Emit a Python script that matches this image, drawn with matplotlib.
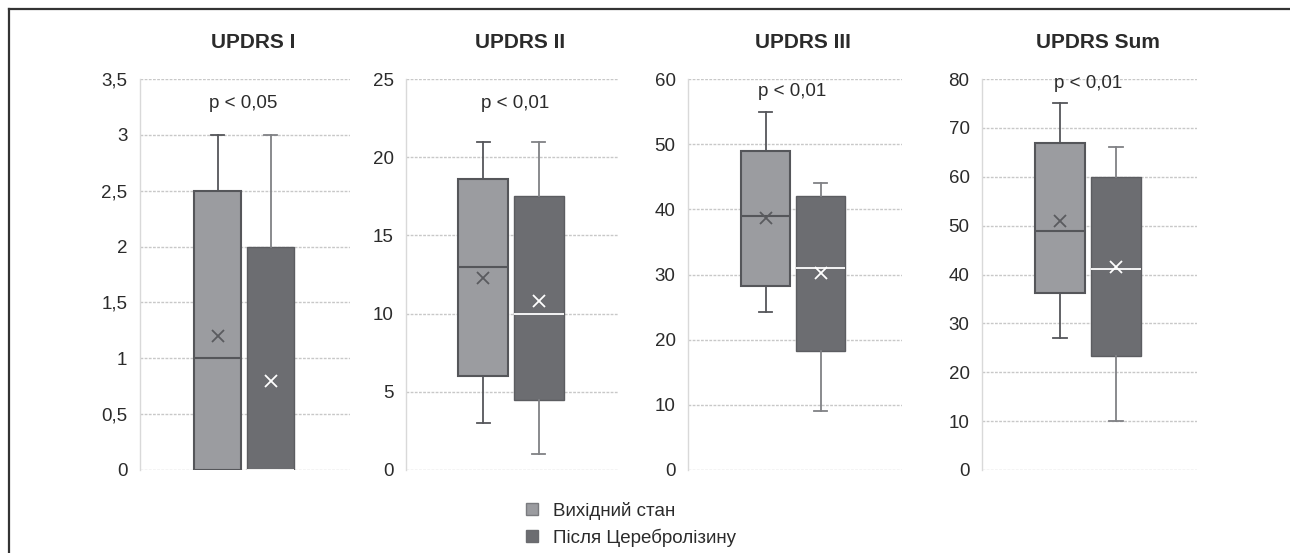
import matplotlib
matplotlib.use("Agg")
import matplotlib.pyplot as plt
from matplotlib.lines import Line2D
from matplotlib.patches import Patch

plt.rcParams['font.family'] = ['Liberation Sans', 'DejaVu Sans']

# ---- data -------------------------------------------------------------
titles = ["UPDRS I", "UPDRS II", "UPDRS III", "UPDRS Sum"]
p_labels = ["p < 0,05", "p < 0,01", "p < 0,01", "p < 0,01"]
series_names = ["Вихідний стан", "Після Церебролізину"]

y_max = [3.5, 25, 60, 80]
y_step = [0.5, 5, 10, 10]
y_tick_labels = [
    ["0", "0,5", "1", "1,5", "2", "2,5", "3", "3,5"],
    ["0", "5", "10", "15", "20", "25"],
    ["0", "10", "20", "30", "40", "50", "60"],
    ["0", "10", "20", "30", "40", "50", "60", "70", "80"],
]

# baseline (before treatment)
base_whislo = [0, 3, 24.2, 27]
base_q1 = [0, 6, 28.2, 36.2]
base_med = [1, 13, 39, 49]
base_q3 = [2.5, 18.6, 49, 67]
base_whishi = [3, 21, 55, 75]
base_mean = [1.2, 12.3, 38.7, 51]

# after Cerebrolysin
post_whislo = [0, 1, 9, 10]
post_q1 = [0, 4.5, 18.2, 23.4]
post_med = [0, 10, 31, 41.2]
post_q3 = [2, 17.5, 42, 60]
post_whishi = [3, 21, 44, 66]
post_mean = [0.8, 10.8, 30.2, 41.6]

# ---- layout (pixels) --------------------------------------------------
W, H = 1290, 553
ax_left = [140, 406, 688, 982]
ax_right = [350, 619, 902, 1197]
ax_top, ax_bottom = 79, 470
box_mid = [244, 511, 793, 1088]
box_gap = [53, 55.5, 55, 56]
p_xy = [(243, 103), (515, 103), (792, 92), (1088, 83)]

base_fill, base_edge = "#9b9ca0", "#55565a"
post_fill, post_edge = "#6c6d71", "#5c5d61"
post_whisk = "#808185"
grid_col = "#c8c8c8"
text_col = "#2b2b2b"

fig = plt.figure(figsize=(W / 100, H / 100), dpi=100)

for i in range(4):
    l, r = ax_left[i], ax_right[i]
    ax = fig.add_axes([l / W, 1 - ax_bottom / H, (r - l) / W, (ax_bottom - ax_top) / H])
    unit = box_gap[i]
    # x data unit = distance between the two box centres
    c = 1.5 + (l + r) / 2 / unit - box_mid[i] / unit
    half = (r - l) / 2 / unit
    ax.set_xlim(c - half, c + half)
    ax.set_ylim(0, y_max[i])

    stats_base = dict(whislo=base_whislo[i], q1=base_q1[i], med=base_med[i],
                      q3=base_q3[i], whishi=base_whishi[i], mean=base_mean[i], fliers=[])
    stats_post = dict(whislo=post_whislo[i], q1=post_q1[i], med=post_med[i],
                      q3=post_q3[i], whishi=post_whishi[i], mean=post_mean[i], fliers=[])

    ax.bxp([stats_base], positions=[1], widths=0.9, patch_artist=True,
           showmeans=True, capwidths=0.24,
           boxprops=dict(facecolor=base_fill, edgecolor=base_edge, linewidth=1.5),
           medianprops=dict(color=base_edge, linewidth=1.5),
           whiskerprops=dict(color=base_edge, linewidth=1.3),
           capprops=dict(color=base_edge, linewidth=1.3),
           meanprops=dict(marker="x", markersize=8, markeredgewidth=1.3,
                          markeredgecolor="#5a5b5f"), zorder=3)
    ax.bxp([stats_post], positions=[2], widths=0.9, patch_artist=True,
           showmeans=True, capwidths=0.24,
           boxprops=dict(facecolor=post_fill, edgecolor=post_edge, linewidth=1.0),
           medianprops=dict(color="white", linewidth=1.3),
           whiskerprops=dict(color=post_whisk, linewidth=1.3),
           capprops=dict(color=post_whisk, linewidth=1.3),
           meanprops=dict(marker="x", markersize=8, markeredgewidth=1.3,
                          markeredgecolor="white"), zorder=3)

    ticks = [k * y_step[i] for k in range(len(y_tick_labels[i]))]
    ax.set_yticks(ticks)
    ax.set_yticklabels(y_tick_labels[i])
    ax.set_xticks([])
    ax.tick_params(axis="y", length=0, pad=9, labelsize=13.5, labelcolor=text_col)
    ax.yaxis.grid(True, color=grid_col, linestyle=(0, (2, 1)), linewidth=1.0)
    ax.set_axisbelow(True)
    for s in ["top", "right", "bottom"]:
        ax.spines[s].set_visible(False)
    ax.spines["left"].set_color("#d9d9d9")
    ax.spines["left"].set_linewidth(1.0)

    fig.text((l + r) / 2 / W + 8 / W, 1 - 43 / H, titles[i], ha="center", va="center",
             fontsize=15, fontweight="bold", color=text_col)
    px, py = p_xy[i]
    fig.text(px / W, 1 - py / H, p_labels[i], ha="center", va="center",
             fontsize=13.5, color=text_col)

# frame around the figure
fig.add_artist(Line2D([8.5 / W, 1], [1 - 8.5 / H, 1 - 8.5 / H], color="#333333",
                      linewidth=1.6, transform=fig.transFigure))
fig.add_artist(Line2D([8.5 / W, 8.5 / W], [0, 1 - 8.5 / H], color="#333333",
                      linewidth=1.6, transform=fig.transFigure))

handles = [Patch(facecolor=base_fill, edgecolor="#7a7b7f"),
           Patch(facecolor=post_fill, edgecolor="#6a6b6f")]
fig.legend(handles, series_names, loc="upper left",
           bbox_to_anchor=(526 / W, 1 - 502 / H), frameon=False,
           handlelength=0.62, handleheight=0.62, handletextpad=0.8,
           labelspacing=0.45, fontsize=13.5, labelcolor=text_col,
           borderaxespad=0, borderpad=0)

fig.savefig("out.png", dpi=100, facecolor="white")
